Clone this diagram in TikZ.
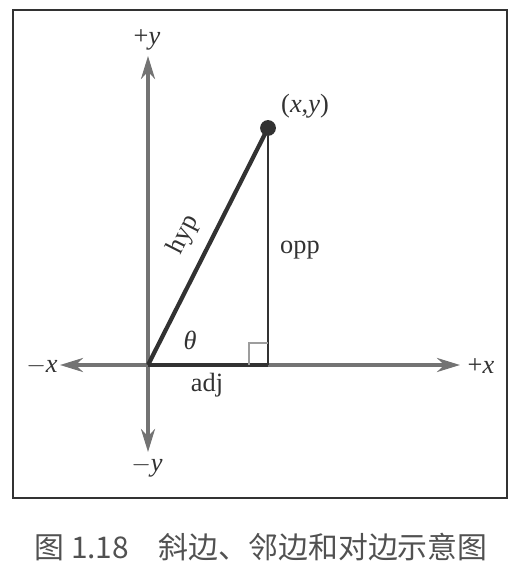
\documentclass[tikz,border=0pt]{standalone}
\usepackage{fontspec}
\setmainfont{Liberation Serif}
\newfontfamily\cjk{Noto Sans CJK SC}
\usetikzlibrary{arrows.meta, positioning}
\definecolor{axisgray}{RGB}{115, 115, 115}
\definecolor{inkdark}{RGB}{50, 50, 50}

\begin{document}
\begin{tikzpicture}[
    x=0.02cm, y=-0.02cm,
    every node/.style={font=\fontsize{15}{17}\selectfont, text=inkdark},
    axis/.style={draw=axisgray, line width=2pt, {Stealth[length=4.6mm, width=2.8mm]}-{Stealth[length=4.6mm, width=2.8mm]}},
    side/.style={draw=inkdark, line width=2.4pt},
    thinside/.style={draw=inkdark, line width=1.2pt},
    axlabel/.style={inner sep=1pt}
]
\useasboundingbox (0,0) rectangle (516,573);

% Frame
\draw[inkdark, line width=1.3pt] (13,10) rectangle (507,498);

% Axes
\coordinate (O) at (148,365);
\coordinate (xneg) at (60,365);
\coordinate (xpos) at (460,365);
\coordinate (ypos) at (148,56);
\coordinate (yneg) at (148,452);
\draw[axis] (xneg) -- (xpos);
\draw[axis] (yneg) -- (ypos);

\node[axlabel] (lxneg) at (42,366) {$-$\textit{x}};
\node[axlabel] (lxpos) at (481,366) {+\textit{x}};
\node[axlabel] (lypos) at (147,40) {+\textit{y}};
\node[axlabel] (lyneg) at (147,467) {$-$\textit{y}};

% Triangle
\node[circle, fill=inkdark, inner sep=0pt, minimum size=9pt] (P) at (268,128) {};
\coordinate (F) at (268,365);
\draw[thinside] (P) -- (F);
\draw[side] (O) -- (F);
\draw[side] (O) -- (P.center);

% Right angle mark
\draw[axisgray!70, line width=0.6pt] (249,365) -- (249,343) -- (268,343);

% Labels
\node[inner sep=0pt] (pt) at (305,106) {(\textit{x},\textit{y})};
\node[inner sep=0pt] (opp) at (300,250) {opp};
\node[rotate=63, inner sep=0pt] (hyp) at (184,235) {hyp};
\node[inner sep=0pt] (adj) at (207,385) {adj};
\node[inner sep=0pt] (theta) at (190,340) {\textit{θ}};

% Caption
\node[font=\cjk\fontsize{17}{19}\selectfont, text=inkdark!85] (cap) at (261,547) {图 1.18\quad 斜边、邻边和对边示意图};

\end{tikzpicture}
\end{document}
